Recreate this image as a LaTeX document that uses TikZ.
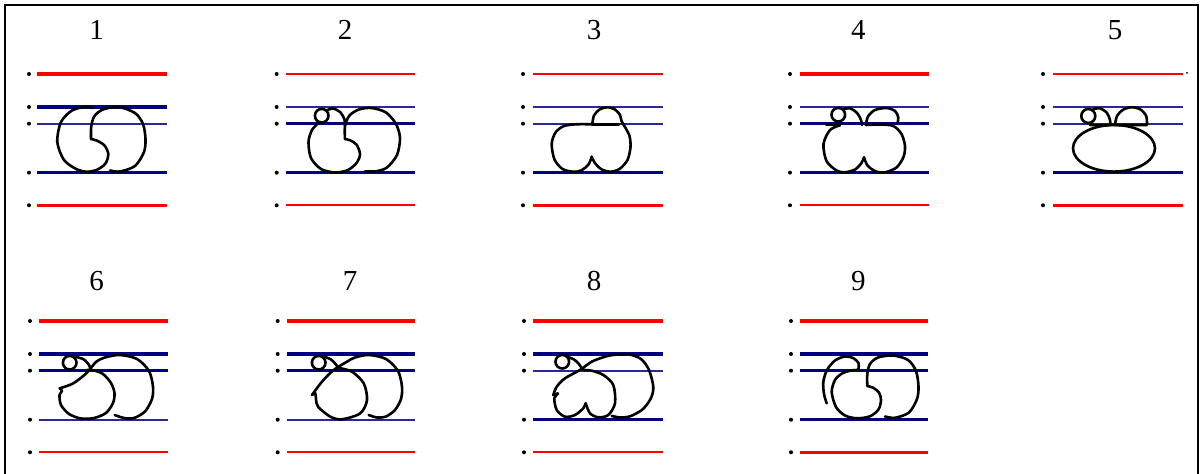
\documentclass[tikz,border=0pt]{standalone}
\usepackage{fontspec}
\setmainfont{Liberation Serif}
\definecolor{redL}{RGB}{255,0,0}
\definecolor{navyT}{RGB}{0,0,128}
\definecolor{blueL}{RGB}{40,40,150}
\tikzset{
  rk/.style={draw=redL, line width=1.6pt},
  rn/.style={draw=redL, line width=0.9pt},
  bk/.style={draw=navyT, line width=1.6pt},
  bn/.style={draw=blueL, line width=0.9pt},
  glyph/.style={draw=black, line width=1.3pt, line join=round, line cap=round},
  num/.style={font=\fontsize{14.5}{16}\selectfont, inner sep=0pt},
  dotm/.style={fill=black},
  frame/.style={draw=black, line width=1.3pt},
}
% #1 dot x, #2 line start, #3 line end, #4 top y, #5..#9 line styles
\newcommand\mkstaff[9]{%
  \foreach \dy in {0,33,49.7,98.7,131.3} {\fill[dotm] ({#1},{#4+\dy}) circle[radius=1pt];}
  \draw[#5] ({#2},{#4}) -- ({#3},{#4});
  \draw[#6] ({#2},{#4+33}) -- ({#3},{#4+33});
  \draw[#7] ({#2},{#4+49.7}) -- ({#3},{#4+49.7});
  \draw[#8] ({#2},{#4+98.7}) -- ({#3},{#4+98.7});
  \draw[#9] ({#2},{#4+131.3}) -- ({#3},{#4+131.3});
}
\begin{document}
\begin{tikzpicture}[x=0.5pt,y=-0.5pt]
\useasboundingbox (0,0) rectangle (1201,474);
\fill[white] (0,0) rectangle (1201,474);
\draw[frame] (5,480) -- (5,5) -- (1198,5) -- (1198,480);

% numbers
\node[num] (n1) at (96.7,30) {1};
\node[num] (n2) at (345,30) {2};
\node[num] (n3) at (594,30) {3};
\node[num] (n4) at (858.3,30) {4};
\node[num] (n5) at (1115,30) {5};
\node[num] (n6) at (96.7,281) {6};
\node[num] (n7) at (350,281) {7};
\node[num] (n8) at (594,281) {8};
\node[num] (n9) at (858.3,281) {9};

% staffs
\mkstaff{29}{37}{167}{74}{rk}{bk}{bn}{bk}{rk}
\mkstaff{276.7}{286}{415}{74}{rn}{bn}{bk}{bk}{rn}
\mkstaff{523}{533}{663}{74}{rn}{bn}{bn}{bk}{rk}
\mkstaff{790}{800}{929}{74}{rk}{bn}{bk}{bk}{rn}
\mkstaff{1043}{1053}{1183}{74}{rn}{bn}{bn}{bk}{rk}
\fill[dotm] (1187,73) circle[radius=0.5pt];
\mkstaff{30}{39}{168}{321}{rk}{bk}{bk}{bn}{rn}
\mkstaff{277.7}{287}{415}{321}{rk}{bk}{bk}{bn}{rn}
\mkstaff{524}{533}{663}{321}{rk}{bk}{bn}{bk}{rn}
\mkstaff{791}{800}{928}{321}{rk}{bk}{bk}{bk}{rk}

% glyph 1
\begin{scope}[shift={(37,74)}]
\draw[glyph] plot[smooth] coordinates {(73,96.5) (83,97.5) (98,92) (107,78) (108.5,65) (106,50) (98,39) (81.5,33) (66,35.5) (57.5,42) (54.3,52) (54,65)};
\draw[glyph] plot[smooth] coordinates {(54,65) (60,66.7) (67.5,71.5) (71.3,80) (68.5,89.5) (60,95.8) (49.7,97.7) (39.7,95.3) (27,86) (20.3,68) (24,48) (35,36.5) (48,33) (56,34)};
\end{scope}

% glyph 2
\begin{scope}[shift={(286,74)}]
\draw[glyph] (35.7,41.7) circle[radius=3.4pt];
\draw[glyph] plot[smooth] coordinates {(40.5,36.5) (47,34.5) (54,38) (58.3,45) (59,52)};
\draw[glyph] plot[smooth] coordinates {(33,48.5) (26,56) (22.5,68) (25,84) (35,95) (49,98.5) (62,96) (71,88.5) (74,80) (70.5,70.5) (64,66.3) (59,65)};
\draw[glyph] plot[smooth] coordinates {(59,65) (59,52) (63.5,41.5) (73,35.5) (85.7,34) (100,38.5) (110,50) (114,64) (111,81) (101,93.5) (90,97.3) (79,97.3)};
\end{scope}

% glyph 3
\begin{scope}[shift={(533,74)}]
\draw[glyph] plot[smooth] coordinates {(59.3,50.3) (61,41.5) (66.5,35.5) (74,33.3) (82,35.5) (87,41) (88.5,47) (92,53) (96.5,62) (97.5,73) (94.5,86) (86.5,95) (77,97.7) (68,95) (61.5,88.5) (58.7,82.7)};
\draw[glyph] plot[smooth] coordinates {(58.7,82.7) (55.5,90.5) (48,96.5) (40,97.7) (29.5,95) (21.5,85.5) (18.7,70) (22.5,58.5) (31,52) (43.7,50.3) (59.3,50.3)};
\draw[glyph] (59.3,50.3) -- (86,50.3);
\end{scope}

% glyph 4
\begin{scope}[shift={(800,74)}]
\draw[glyph] (38.3,40.7) circle[radius=3.4pt];
\draw[glyph] plot[smooth] coordinates {(43,35.3) (50,34.3) (57,39) (61,46) (62,51)};
\draw[glyph] (26,50.3) -- (40,50.3);
\draw[glyph] plot[smooth] coordinates {(66,51) (68,42.5) (75,36) (86.7,34) (95,37) (98.3,43.3) (97.5,49)};
\draw[glyph] plot[smooth] coordinates {(40,51.3) (30,56) (23.5,70) (26.5,87) (36.5,96.5) (45,98.3) (55,95.5) (61.5,89) (64,83.3)};
\draw[glyph] plot[smooth] coordinates {(64,83.3) (67.5,91.5) (75.5,97.3) (85,98.3) (96.5,93.5) (103.5,83) (105,72) (101.5,60) (93.3,52) (80,50.5) (66,51)};
\end{scope}

% glyph 5
\begin{scope}[shift={(1053,74)}]
\draw[glyph] (61,74.3) ellipse[x radius=20.5pt, y radius=11.65pt];
\draw[glyph] (35.3,42) circle[radius=3.5pt];
\draw[glyph] plot[smooth] coordinates {(40,35.3) (47,34.3) (54,39) (57,46) (57.5,51)} -- (37,51);
\draw[glyph] plot[smooth] coordinates {(62,51) (64,42) (70.5,35.5) (79,33.3) (87.5,35.5) (93.2,42) (94,51)} -- cycle;
\end{scope}

% glyph 6
\begin{scope}[shift={(39,321)}]
\draw[glyph] (30.7,41.7) circle[radius=3.4pt];
\draw[glyph] plot[smooth] coordinates {(37,36) (44,38) (49,42.5) (52.3,49)};
\draw[glyph] plot[smooth] coordinates {(75.7,94) (85,97) (95,97) (106,90.5) (113,78) (114,65.7) (110,50) (98,38) (80.7,34) (66,36.5) (57.3,40.7) (47.3,52.3) (34,62.5) (20.7,67.3)};
\draw[glyph] plot[smooth] coordinates {(20.7,67.3) (23,70) (20.5,74) (22,84) (30,93) (42,97.5) (55,97) (67,92) (74,82) (75.5,72) (72,62) (64,53) (55,49.5) (48,49)};
\end{scope}

% glyph 7
\begin{scope}[shift={(287,321)}]
\draw[glyph] (31.7,41.7) circle[radius=3.4pt];
\draw[glyph] plot[smooth] coordinates {(38,36) (44,38.5) (48.5,43) (51.7,47.3)};
\draw[glyph] plot[smooth] coordinates {(81.7,94) (90,96.5) (99,95.5) (108,89) (114,78) (115,65.7) (111,50) (99,38) (81.7,34) (68,36.5) (60,40.7) (46.7,49) (35,60.7) (25,74)};
\draw[glyph] plot[smooth] coordinates {(25,74) (28.3,72.3) (29,78) (31,85.7) (43.3,95.7) (55,98.3) (73.3,92.3) (80,79) (76.7,62.3) (65,50.7) (53.3,47.3)};
\end{scope}

% glyph 8
\begin{scope}[shift={(533,321)}]
\draw[glyph] (29.3,40.7) circle[radius=3.4pt];
\draw[glyph] plot[smooth] coordinates {(35,36) (41,38.5) (45.3,42.3) (48.7,47.3)};
\draw[glyph] plot[smooth] coordinates {(78.7,95) (88,96.5) (98,95) (110,88) (118,77) (120.3,65.7) (116,49) (108,38) (95.3,33.3) (80,34) (72,35.7) (58.7,40.7) (47,49) (32,57.3) (23.7,65.7) (20.3,74)};
\draw[glyph] plot[smooth] coordinates {(20.3,74) (25,72.5) (21.3,77.3) (23.7,89) (32,95.7) (42,94) (50.3,87.3) (52.7,82.3)};
\draw[glyph] plot[smooth] coordinates {(52.7,82.3) (57,92.3) (65.3,96.3) (75.3,94) (82,82.3) (80.3,64) (70.3,54) (58.7,49.7) (50.3,49)};
\end{scope}

% glyph 9
\begin{scope}[shift={(800,321)}]
\draw[glyph] plot[smooth] coordinates {(85,95.5) (95,96.8) (109,91.5) (117,78) (118.5,65.5) (116,50) (108,39) (93,34.5) (78,36.5) (70,43) (67.3,53) (67.3,65)};
\draw[glyph] plot[smooth] coordinates {(67.3,65) (73,66.7) (79,71.5) (81,79) (78.5,88.5) (70,95.3) (57,97.3) (45,94.5) (36,86) (31.7,71) (35,59) (42,52.5) (51,49.5) (58.3,49)};
\draw[glyph] plot[smooth] coordinates {(58.3,49) (58.5,42) (53,37) (45,35.5) (35,39.5) (27,49) (23.3,61) (24,73) (26.7,82.3)};
\end{scope}
\end{tikzpicture}
\end{document}
